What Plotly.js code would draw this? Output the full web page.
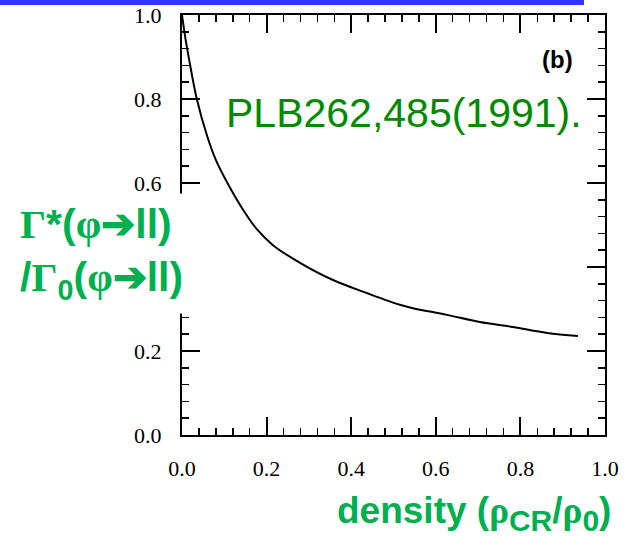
<!DOCTYPE html>
<html>
<head>
<meta charset="utf-8">
<script src="https://cdn.plot.ly/plotly-3.0.1.min.js"></script>
<style>
html,body{margin:0;padding:0;background:#fff;}
#chart{width:631px;height:537px;}
</style>
</head>
<body>
<div id="chart"></div>
<script>
// Data: width ratio Γ*/Γ0 vs density ρCR/ρ0
const density = [0, 0.008, 0.017, 0.035, 0.060, 0.080, 0.11, 0.142, 0.177, 0.215, 0.279, 0.357, 0.437, 0.515, 0.546, 0.626, 0.704, 0.783, 0.863, 0.936];
const widthRatio = [1.0, 0.945, 0.893, 0.80, 0.71, 0.655, 0.595, 0.54, 0.49, 0.452, 0.41, 0.369, 0.338, 0.31, 0.302, 0.286, 0.269, 0.257, 0.243, 0.236];
const xTickVals = [0, 0.2, 0.4, 0.6, 0.8, 1.0];
const xTickText = ["0.0", "0.2", "0.4", "0.6", "0.8", "1.0"];
const yTickVals = [0, 0.2, 0.4, 0.6, 0.8, 1.0];
// the 0.4 label is hidden behind the y title in the reference
const yTickText = ["0.0", "0.2", "", "0.6", "0.8", "1.0"];

const W = 631, H = 537;
const M = {l: 182, r: 26, t: 15, b: 102};
const pw = W - M.l - M.r, ph = H - M.t - M.b;
const px = x => (x - M.l) / pw;
const py = y => (H - M.b - y) / ph;

const green = "#00b050";
const serif = "'Liberation Serif', 'Times New Roman', serif";
const sans = "'Liberation Sans', Arial, sans-serif";

const axisCommon = {
  range: [0, 1],
  showline: true, linecolor: "black", linewidth: 2,
  mirror: "ticks",
  ticks: "inside", ticklen: 18, tickwidth: 2, tickcolor: "black",
  minor: {dtick: 0.04, ticks: "inside", ticklen: 7, tickwidth: 1.5, tickcolor: "black"},
  showgrid: false, zeroline: false,
  tickfont: {family: serif, size: 22, color: "black"},
  fixedrange: true
};

const trace = {
  x: density, y: widthRatio,
  type: "scatter", mode: "lines",
  line: {color: "black", width: 2, shape: "spline", smoothing: 1},
  hoverinfo: "skip"
};

const G = t => `<span style="font-family:${serif}">${t}</span>`;

const layout = {
  width: W, height: H,
  margin: M,
  paper_bgcolor: "white", plot_bgcolor: "white",
  showlegend: false,
  xaxis: Object.assign({}, axisCommon, {tickvals: xTickVals, ticktext: xTickText, ticklabelstandoff: 13}),
  yaxis: Object.assign({}, axisCommon, {tickvals: yTickVals, ticktext: yTickText, ticklabelstandoff: 14}),
  shapes: [
    {type: "rect", xref: "paper", yref: "paper", x0: px(0), x1: px(584), y0: py(0), y1: py(5),
     fillcolor: "#3333ff", line: {width: 0}, layer: "above"}
  ],
  annotations: [
    {xref: "paper", yref: "paper", x: px(404), y: py(113), xanchor: "center", yanchor: "middle",
     text: "PLB262,485(1991).", showarrow: false,
     font: {family: sans, size: 41, color: "#008a00"}},
    {xref: "paper", yref: "paper", x: px(557), y: py(60), xanchor: "center", yanchor: "middle",
     text: "<b>(b)</b>", showarrow: false,
     font: {family: sans, size: 24, color: "black"}},
    {xref: "paper", yref: "paper", x: px(14), y: py(253), xanchor: "left", yanchor: "middle",
     width: 186, height: 109,
     text: "<b>" + G("Γ") + "*(" + G("φ") + "➔ll)<br>/" + G("Γ") + "<sub>0</sub>(" + G("φ") + "➔ll)</b>",
     align: "left", valign: "middle", showarrow: false, bgcolor: "white", borderpad: 5,
     font: {family: sans, size: 41, color: green}},
    {xref: "paper", yref: "paper", x: px(613), y: py(513), xanchor: "right", yanchor: "middle",
     text: "<b>density (" + G("ρ") + "<sub><span style=\"font-size:30px\">CR</span></sub>/" + G("ρ") + "<sub><span style=\"font-size:30px\">0</span></sub>)</b>",
     showarrow: false,
     font: {family: sans, size: 37, color: green}}
  ]
};

Plotly.newPlot("chart", [trace], layout, {staticPlot: true, displayModeBar: false});
</script>
</body>
</html>
